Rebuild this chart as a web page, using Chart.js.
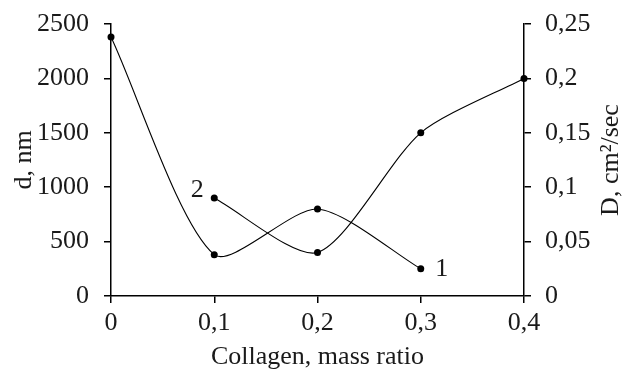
<!DOCTYPE html>
<html>
<head>
<meta charset="utf-8">
<script src="https://cdn.jsdelivr.net/npm/chart.js@4.4.1/dist/chart.umd.min.js"></script>
<style>
  html, body { margin: 0; padding: 0; background: #fff; }
  canvas { display: block; }
</style>
</head>
<body>
<canvas id="chart" width="624" height="372"></canvas>
<script>
// Collagen mass ratio
const curve1X = [0, 0.1, 0.2, 0.3];
const curve1Size = [2380, 380, 800, 250];          // d, nm (left axis)
const curve2X = [0.1, 0.2, 0.3, 0.4];
const curve2Diff = [0.09, 0.04, 0.15, 0.2];         // D, cm2/sec (right axis)

const xTicks = [0, 0.1, 0.2, 0.3, 0.4];
const leftTicks = [0, 500, 1000, 1500, 2000, 2500];
const rightTicks = [0, 0.05, 0.1, 0.15, 0.2, 0.25];

const FONT = 'Liberation Serif, Times New Roman, serif';
const INK = '#1a1a1a';

const comma = v => String(Math.round(v * 100) / 100).replace('.', ',');

const labelsPlugin = {
    id: 'labels',
    afterDraw(chart) {
        const ctx = chart.ctx;
        const area = chart.chartArea;
        const sx = chart.scales.x, sy = chart.scales.y, sy2 = chart.scales.y2;
        const midY = (area.top + area.bottom) / 2;
        ctx.save();
        ctx.fillStyle = INK;
        ctx.font = '26px ' + FONT;
        ctx.textAlign = 'center';
        ctx.textBaseline = 'middle';

        // left title
        ctx.save();
        ctx.translate(24, midY);
        ctx.rotate(-Math.PI / 2);
        ctx.fillText('d, nm', 0, 0);
        ctx.restore();

        // right title
        ctx.save();
        ctx.translate(611, midY);
        ctx.rotate(-Math.PI / 2);
        ctx.fillText('D, cm\u00B2/sec', 0, 0);
        ctx.restore();

        // bottom title
        ctx.textBaseline = 'alphabetic';
        ctx.fillText('Collagen, mass ratio', (area.left + area.right) / 2, 364);

        // curve numbers
        ctx.textBaseline = 'middle';
        const last = curve1X.length - 1;
        ctx.fillText('1', sx.getPixelForValue(curve1X[last]) + 21, sy.getPixelForValue(curve1Size[last]));
        ctx.fillText('2', sx.getPixelForValue(curve2X[0]) - 17, sy2.getPixelForValue(curve2Diff[0]) - 8);
        ctx.restore();
    }
};

const lineStyle = {
    borderColor: '#000',
    borderWidth: 1.1,
    backgroundColor: '#000',
    pointRadius: 3.5,
    pointBackgroundColor: '#000',
    pointBorderWidth: 0,
    tension: 0.25,
    fill: false,
    clip: false
};

const axisGrid = { drawOnChartArea: false, color: '#000', lineWidth: 1.5, tickLength: 7 };
const axisBorder = { color: '#000', width: 1.5 };
const tickFont = { family: FONT, size: 26 };

// keep the plot area where the reference has it
const fixWidth = w => s => { s.width = w; s.paddingTop = 0; s.paddingBottom = 0; };

new Chart(document.getElementById('chart'), {
    type: 'line',
    data: {
        datasets: [{
            ...lineStyle,
            label: '1',
            yAxisID: 'y',
            data: curve1X.map((x, i) => ({ x, y: curve1Size[i] }))
        }, {
            ...lineStyle,
            label: '2',
            yAxisID: 'y2',
            data: curve2X.map((x, i) => ({ x, y: curve2Diff[i] }))
        }]
    },
    options: {
        responsive: false,
        devicePixelRatio: 1,
        animation: false,
        layout: { padding: { top: 24, left: 0, right: 0, bottom: 0 } },
        plugins: {
            legend: { display: false },
            tooltip: { enabled: false }
        },
        scales: {
            x: {
                type: 'linear',
                min: 0,
                max: 0.4,
                afterBuildTicks: s => { s.ticks = xTicks.map(v => ({ value: v })); },
                afterFit: s => { s.height = 76; s.paddingLeft = 0; s.paddingRight = 0; },
                grid: axisGrid,
                border: axisBorder,
                ticks: { font: tickFont, color: INK, padding: 5, maxRotation: 0, callback: v => comma(v) }
            },
            y: {
                position: 'left',
                min: 0,
                max: 2500,
                afterBuildTicks: s => { s.ticks = leftTicks.map(v => ({ value: v })); },
                afterFit: fixWidth(111),
                grid: axisGrid,
                border: axisBorder,
                ticks: { font: tickFont, color: INK, padding: 15, callback: v => String(v) }
            },
            y2: {
                position: 'right',
                min: 0,
                max: 0.25,
                afterBuildTicks: s => { s.ticks = rightTicks.map(v => ({ value: v })); },
                afterFit: fixWidth(100),
                grid: axisGrid,
                border: axisBorder,
                ticks: { font: tickFont, color: INK, padding: 14, callback: v => comma(v) }
            }
        }
    },
    plugins: [labelsPlugin]
});
</script>
</body>
</html>
